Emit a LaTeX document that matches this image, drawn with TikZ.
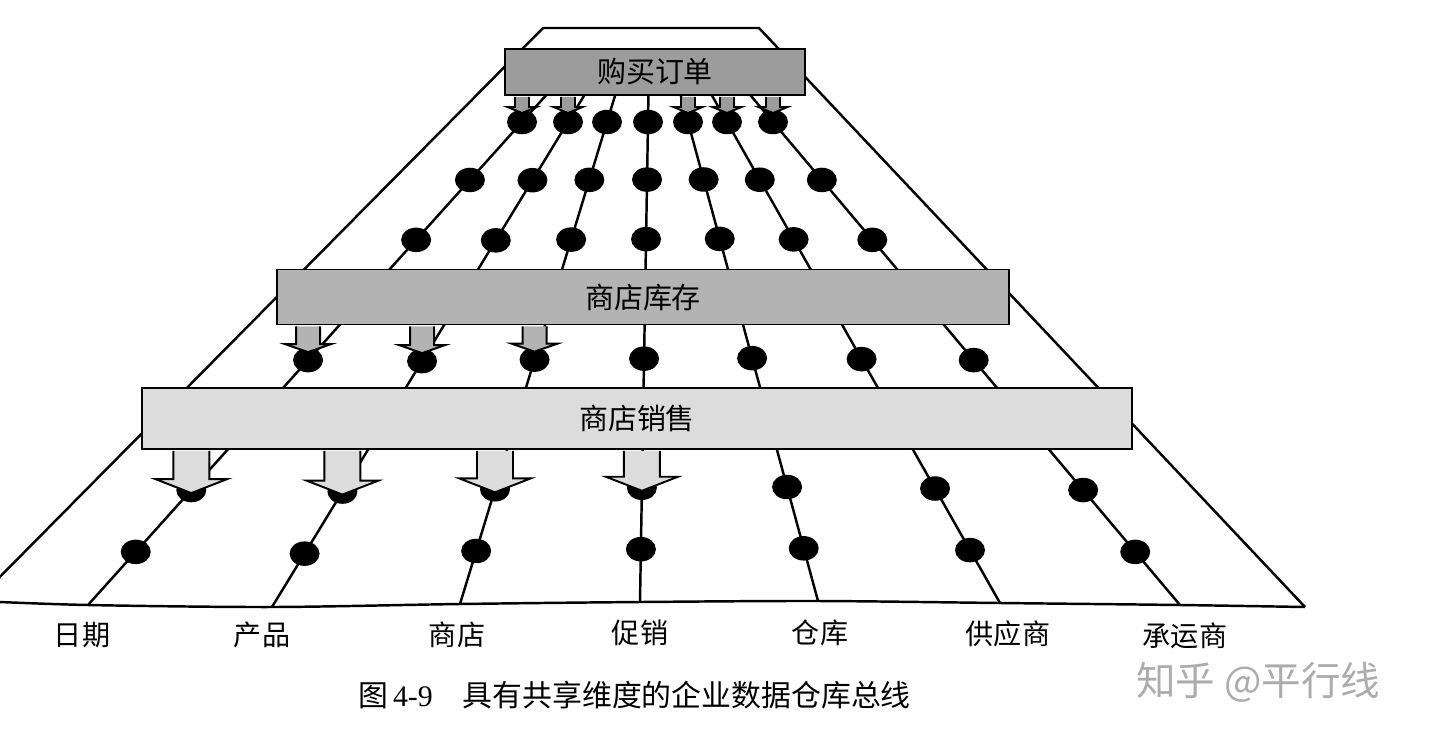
\documentclass[tikz,border=0pt]{standalone}
\usepackage{fontspec}
\setmainfont{Liberation Serif}
\newfontfamily\cjk{Noto Sans CJK SC}
\usetikzlibrary{calc,shapes.geometric}
\definecolor{ordergray}{HTML}{9C9C9C}
\definecolor{stockgray}{HTML}{B3B3B3}
\definecolor{salesgray}{HTML}{DCDCDC}
% block arrow from a bar down onto a dot:
% bar, dot, shaft half width, head half width, head length, tip shift, fill
\newcommand{\feed}[7]{%
  \coordinate (tip) at ($(#2.center)+(0,#6)$);
  \coordinate (shafttop) at (#1.south -| tip);
  \draw[feedline,fill=#7] ($(shafttop)+(-#3,1)$) -- ($(tip)+(-#3,-#5)$)
    -- ($(tip)+(-#4,-#5)$) -- (tip) -- ($(tip)+(#4,-#5)$)
    -- ($(tip)+(#3,-#5)$) -- ($(shafttop)+(#3,1)$);
}
\begin{document}
\begin{tikzpicture}[x=0.02cm,y=-0.02cm,
  busline/.style={line width=1.4pt},
  busdot/.style={ellipse,fill=black,inner sep=0pt,minimum width=0.6cm,minimum height=0.49cm},
  bar/.style={draw,line width=1.1pt,inner sep=0pt,font=\cjk\fontsize{16.5}{20}\selectfont},
  feedline/.style={line width=1.1pt,line join=miter},
  dimlabel/.style={font=\cjk\fontsize{16}{19}\selectfont}]
\useasboundingbox (0,0) rectangle (1440,741);
\clip (0,0) rectangle (1440,741);
% outline of the bus
\coordinate (left-bot) at (-24,601);
\coordinate (right-bot) at (1305,607);
\coordinate (top-left) at (543,28);
\coordinate (top-right) at (759,28);
% dimension lines with their dots
\foreach \dname/\xt/\xb/\yb in {date/522/88/605, product/568/272/607, store/607/460/604,
    promo/648/640/602, warehouse/688/818/601, supplier/727/1000/603, carrier/773/1180/605}{
  \coordinate (\dname-top) at (\xt,122);
  \coordinate (\dname-bot) at (\xb,\yb);
  \draw[busline] ($(\dname-top)!-0.08!(\dname-bot)$) -- (\dname-bot);
  \foreach \pos [count=\row] in {0,0.120,0.244,0.493,0.762,0.890}
    \node[busdot] (\dname-\row) at ($(\dname-top)!\pos!(\dname-bot)$) {};
}
\draw[busline] (left-bot) -- (top-left) -- (top-right) -- (right-bot);
\draw[busline] plot[smooth] coordinates {(left-bot) (date-bot) (product-bot) (store-bot)
  (promo-bot) (warehouse-bot) (supplier-bot) (carrier-bot) (right-bot)};
% the three fact bars
\node[bar,fill=ordergray,minimum width=6cm,minimum height=0.92cm] (order) at (655,72) {购买订单};
\node[bar,fill=stockgray,minimum width=14.64cm,minimum height=1.1cm] (stock) at (643,297) {商店库存};
\node[bar,fill=salesgray,minimum width=19.82cm,minimum height=1.22cm] (sales) at (637,418.5) {商店销售};
% arrows onto the shared dimensions
\foreach \dname in {date,product,warehouse,supplier,carrier}
  \feed{order}{\dname-1}{7}{14.5}{6}{-9}{ordergray};
\foreach \dname in {date,product,store}
  \feed{stock}{\dname-4}{12}{23}{8}{-8}{stockgray};
\foreach \dname in {date,product,store,promo}
  \feed{sales}{\dname-5}{18}{36}{14}{3}{salesgray};
% dimension names
\node[dimlabel] (date-label) at (82,635) {日期};
\node[dimlabel] (product-label) at (262,635) {产品};
\node[dimlabel] (store-label) at (457,635) {商店};
\node[dimlabel] (promo-label) at (640,633) {促销};
\node[dimlabel] (warehouse-label) at (820,633) {仓库};
\node[dimlabel] (supplier-label) at (1008,634) {供应商};
\node[dimlabel] (carrier-label) at (1185,636) {承运商};
% caption and watermark
\node[anchor=west,font=\fontsize{17}{20}\selectfont] (caption) at (352,695)
  {{\cjk 图}\,4-9\quad{\cjk 具有共享维度的企业数据仓库总线}};
\node[anchor=west,font=\cjk\fontsize{22.5}{26}\selectfont,text=gray!65] (mark) at (1130,682) {知乎 @平行线};
\end{tikzpicture}
\end{document}
